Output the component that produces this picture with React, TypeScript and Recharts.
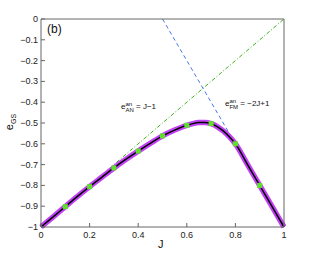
import React from 'react'
import { ComposedChart, Line, Scatter, XAxis, YAxis } from 'recharts'

// ground-state energy curve
const curveJ = [0, 0.05, 0.1, 0.15, 0.2, 0.25, 0.3, 0.35, 0.4, 0.45, 0.5, 0.55, 0.6, 0.625, 0.65, 0.675, 0.7, 0.725, 0.75, 0.775, 0.8, 0.85, 0.9, 0.95, 1]
const curveE = [-1, -0.951, -0.902, -0.853, -0.806, -0.761, -0.716, -0.674, -0.635, -0.598, -0.562, -0.534, -0.511, -0.503, -0.498, -0.497, -0.503, -0.517, -0.538, -0.566, -0.6, -0.7, -0.8, -0.9, -1]

// green square markers
const markJ = [0.1, 0.2, 0.3, 0.4, 0.5, 0.6, 0.7, 0.8, 0.9]
const markE = [-0.902, -0.806, -0.716, -0.635, -0.562, -0.511, -0.503, -0.6, -0.8]

// asymptotes e_AN = J-1, e_FM = -2J+1
const anJ = [0, 1]
const anE = [-1, 0]
const fmJ = [0.5, 1]
const fmE = [0, -1]

const xTicks = [0, 0.2, 0.4, 0.6, 0.8, 1]
const yTicks = [-1, -0.9, -0.8, -0.7, -0.6, -0.5, -0.4, -0.3, -0.2, -0.1, 0]

const zip = (xs: number[], ys: number[]) => xs.map((x, i) => ({ x, y: ys[i] }))
const curve = zip(curveJ, curveE)
const marks = zip(markJ, markE)
const anLine = zip(anJ, anE)
const fmLine = zip(fmJ, fmE)

const AX = '#666'
const FONT = 'Liberation Sans, Arial, sans-serif'
const fmt = (v: number) => (v < 0 ? '\u2212' + String(-v) : String(v))

const BottomTick = (p: any) => (
  <g>
    <line x1={p.x} y1={p.y} x2={p.x} y2={p.y - 4} stroke={AX} />
    <text x={p.x} y={p.y + 11} textAnchor="middle" fontSize={9} fill="#222" fontFamily={FONT}>{fmt(p.payload.value)}</text>
  </g>
)
const LeftTick = (p: any) => (
  <g>
    <line x1={p.x} y1={p.y} x2={p.x + 4} y2={p.y} stroke={AX} />
    <text x={p.x - 3} y={p.y + 3} textAnchor="end" fontSize={9} fill="#222" fontFamily={FONT}>{fmt(p.payload.value)}</text>
  </g>
)
const TopTick = (p: any) => <line x1={p.x} y1={p.y} x2={p.x} y2={p.y + 4} stroke={AX} />
const RightTick = (p: any) => <line x1={p.x} y1={p.y} x2={p.x - 4} y2={p.y} stroke={AX} />

const Square = (p: any) => <rect x={p.cx - 2.5} y={p.cy - 2.5} width={5} height={5} fill="#5fe02a" />

const sub = { fontSize: 7, verticalAlign: 'sub' as const, lineHeight: 0 }
const stack = { display: 'inline-block', verticalAlign: 'middle', lineHeight: '6px', fontSize: 6 }

export default function App() {
  return (
    <div style={{ position: 'absolute', left: 0, top: 0, width: 314, height: 257, fontFamily: FONT, background: '#fff' }}>
      <ComposedChart width={314} height={257} margin={{ top: 18, right: 29, left: 0, bottom: 0 }}>
        <XAxis xAxisId="b" dataKey="x" type="number" domain={[0, 1]} ticks={xTicks} interval={0} height={30} tickSize={0} tickMargin={0} tick={BottomTick} stroke={AX} />
        <XAxis xAxisId="t" orientation="top" dataKey="x" type="number" domain={[0, 1]} ticks={xTicks} interval={0} height={1} tickSize={0} tickMargin={0} tick={TopTick} stroke={AX} />
        <YAxis yAxisId="l" dataKey="y" type="number" domain={[-1, 0]} ticks={yTicks} interval={0} width={41} tickSize={0} tickMargin={0} tick={LeftTick} stroke={AX} />
        <YAxis yAxisId="r" orientation="right" dataKey="y" type="number" domain={[-1, 0]} ticks={yTicks} interval={0} width={1} tickSize={0} tickMargin={0} tick={RightTick} stroke={AX} />
        <Line xAxisId="b" yAxisId="l" data={anLine} dataKey="y" stroke="#3fb41e" strokeWidth={1} strokeDasharray="4 2 1 2" dot={false} isAnimationActive={false} />
        <Line xAxisId="b" yAxisId="l" data={fmLine} dataKey="y" stroke="#4a78f0" strokeWidth={1} strokeDasharray="4 3" dot={false} isAnimationActive={false} />
        <Line xAxisId="b" yAxisId="l" data={curve} dataKey="y" type="monotone" stroke="#c242f5" strokeWidth={5.5} dot={false} isAnimationActive={false} />
        <Line xAxisId="b" yAxisId="l" data={curve} dataKey="y" type="monotone" stroke="#000" strokeWidth={1.5} dot={false} isAnimationActive={false} />
        <Scatter xAxisId="b" yAxisId="l" data={marks} dataKey="y" shape={Square} isAnimationActive={false} />
      </ComposedChart>
      <div style={{ position: 'absolute', left: 47, top: 22, fontSize: 12, color: '#111' }}>(b)</div>
      <div style={{ position: 'absolute', left: 158, top: 238, fontSize: 11, color: '#111' }}>J</div>
      <div style={{ position: 'absolute', left: -9, top: 116, fontSize: 11, color: '#111', transform: 'rotate(-90deg)', width: 36, textAlign: 'center' }}>
        e<span style={sub}>GS</span>
      </div>
      <div style={{ position: 'absolute', left: 121, top: 101, fontSize: 8, color: '#111', whiteSpace: 'nowrap' }}>
        e<span style={stack}>an<br />AN</span> = J&minus;1
      </div>
      <div style={{ position: 'absolute', left: 225, top: 98, fontSize: 8, color: '#111', whiteSpace: 'nowrap' }}>
        e<span style={stack}>an<br />FM</span> = &minus;2J+1
      </div>
    </div>
  )
}
